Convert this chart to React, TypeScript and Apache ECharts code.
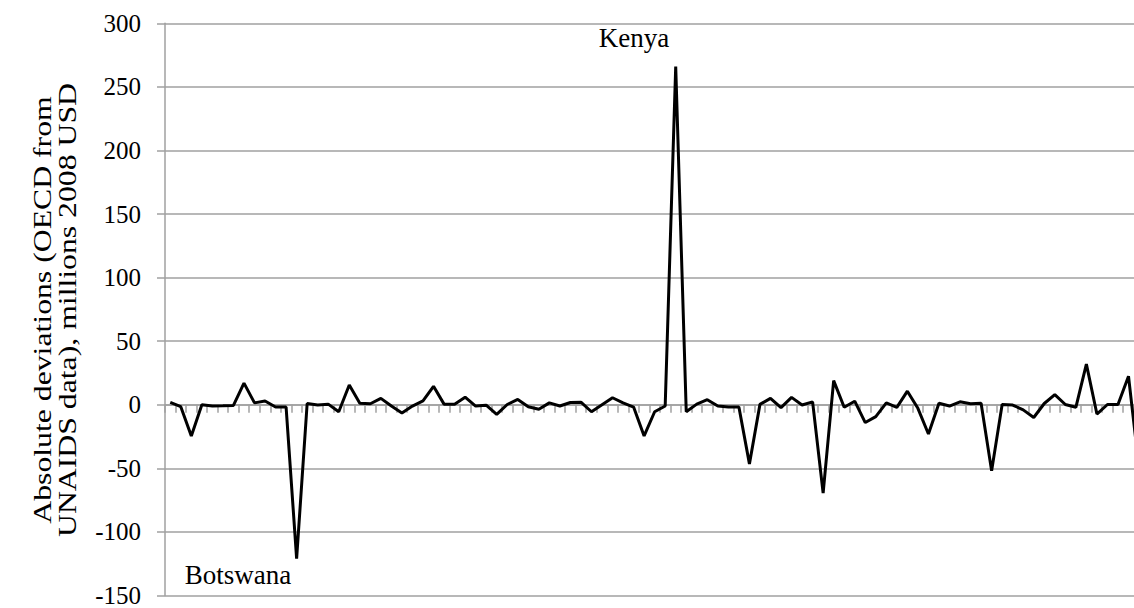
import React, { useEffect, useRef } from "react";
import * as echarts from "echarts";

// Absolute deviations (OECD from UNAIDS data), millions 2008 USD, one value per country
const deviations: number[] = [
  1.8, -1.5, -24.5, 0, -1, -0.8, -0.5, 17, 1.5, 3,
  -1.8, -1.8, -121, 1, -0.2, 0.5, -5.5, 15.5, 1.2, 0.8,
  5, -1, -6.5, -1, 3, 14.5, 0.5, 0.5, 6, -1,
  -0.3, -7.5, 0.2, 4.2, -1.5, -3.5, 1.5, -1, 1.8, 2,
  -5.5, 0, 5.5, 1.5, -1.8, -24.5, -5.5, -1, 266, -5.5,
  0.5, 4, -1, -1.8, -1.8, -46.5, 0.3, 5, -2.3, 5.8,
  -0.2, 2.3, -69.5, 19, -2, 2.8, -14, -9.3, 1.5, -2,
  10.7, -2.8, -23, 1.2, -1, 2.3, 0.8, 1.2, -52, 0.2,
  -0.2, -4, -10, 1, 8, 0.2, -2, 32, -7.3, 0.2,
  0.2, 22.4, -50,
];

// Country positions (names not shown on the axis)
const categories: string[] = deviations.map((_, i) => String(i + 1));

// Y axis scale
const yMin = -150;
const yMax = 300;
const yStep = 50;

// Annotations
const annotations = [
  { text: "Kenya", x: 634, y: 38 },
  { text: "Botswana", x: 238, y: 575 },
];

const titleLines = [
  "Absolute deviations (OECD from",
  "UNAIDS data), millions 2008 USD",
];

const GRAY = "#a0a0a0";

export default function App() {
  const ref = useRef<HTMLDivElement>(null);

  useEffect(() => {
    if (!ref.current) return;
    const chart = echarts.init(ref.current, undefined, { renderer: "svg" });
    chart.setOption({
      animation: false,
      backgroundColor: "#ffffff",
      grid: { left: 165, top: 23.3, bottom: 10, right: 0.7, containLabel: false },
      xAxis: {
        type: "category",
        data: categories,
        boundaryGap: true,
        axisLine: { show: true, onZero: true, lineStyle: { color: GRAY, width: 1.5 } },
        axisTick: { show: true, interval: 0, length: 8, inside: false, lineStyle: { color: GRAY, width: 1.5 } },
        axisLabel: { show: false, interval: 0 },
        splitLine: { show: false },
      },
      yAxis: {
        type: "value",
        min: yMin,
        max: yMax,
        interval: yStep,
        axisLine: { show: true, lineStyle: { color: GRAY, width: 1.5 } },
        axisTick: { show: true, length: 8, lineStyle: { color: GRAY, width: 1.5 } },
        axisLabel: { color: "#000", fontFamily: "Liberation Serif", fontSize: 25, margin: 24 },
        splitLine: { show: true, lineStyle: { color: GRAY, width: 1.5 } },
      },
      series: [
        {
          type: "line",
          data: deviations,
          symbol: "none",
          clip: true,
          lineStyle: { color: "#000", width: 3 },
          z: 5,
        },
      ],
      graphic: [
        ...annotations.map((a) => ({
          type: "text",
          x: a.x,
          y: a.y,
          style: {
            text: a.text,
            fill: "#000",
            fontFamily: "Liberation Serif",
            fontSize: 27,
            textAlign: "center",
            textVerticalAlign: "middle",
          },
        })),
        {
          type: "text",
          x: 55,
          y: 310,
          rotation: Math.PI / 2,
          scaleX: 1.27,
          style: {
            text: titleLines.join("\n"),
            fill: "#000",
            fontFamily: "Liberation Serif",
            fontSize: 25,
            lineHeight: 25,
            textAlign: "center",
            textVerticalAlign: "middle",
          },
        },
      ],
    });
    return () => chart.dispose();
  }, []);

  return (
    <div
      style={{ position: "absolute", left: 0, top: 0, width: 1134, height: 608, overflow: "hidden" }}
    >
      <div ref={ref} style={{ width: 1145, height: 608 }} />
    </div>
  );
}
